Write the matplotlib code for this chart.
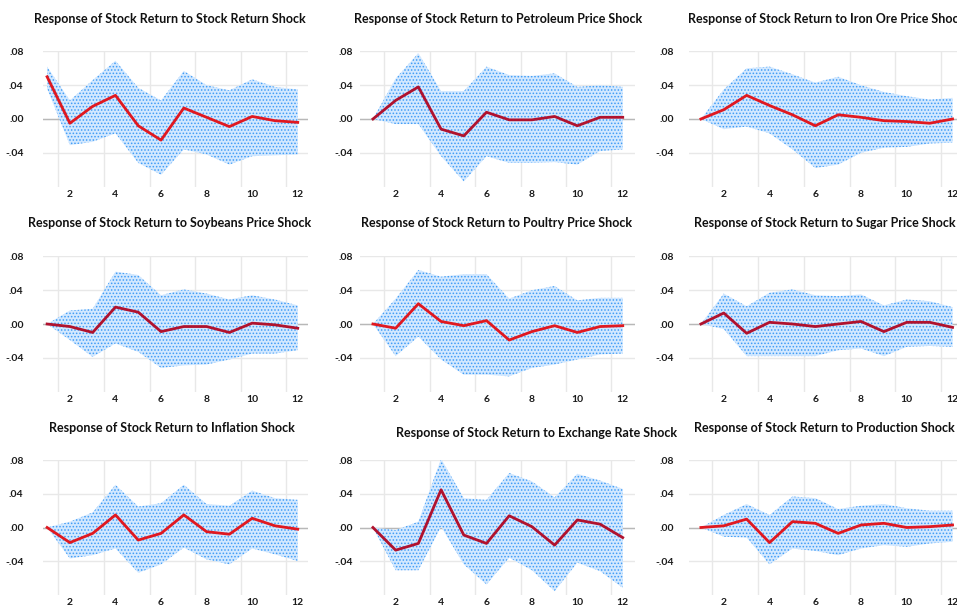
import matplotlib.pyplot as plt
import numpy as np

plt.rcParams['hatch.linewidth'] = 0.7

horizon = np.arange(1, 13)

titles = [
    "Response of Stock Return to Stock Return Shock",
    "Response of Stock Return to Petroleum Price Shock",
    "Response of Stock Return to Iron Ore Price Shock",
    "Response of Stock Return to Soybeans Price Shock",
    "Response of Stock Return to Poultry Price Shock",
    "Response of Stock Return to Sugar Price Shock",
    "Response of Stock Return to Inflation Shock",
    "Response of Stock Return to Exchange Rate Shock",
    "Response of Stock Return to Production Shock",
]

# impulse responses with +/- 2 S.E. bands
stock_irf = [0.050, -0.005, 0.015, 0.028, -0.008, -0.025, 0.013, 0.002, -0.009, 0.003, -0.002, -0.004]
stock_hi = [0.062, 0.022, 0.046, 0.069, 0.037, 0.022, 0.057, 0.040, 0.034, 0.047, 0.038, 0.035]
stock_lo = [0.036, -0.031, -0.027, -0.017, -0.052, -0.066, -0.036, -0.042, -0.054, -0.044, -0.043, -0.042]

petro_irf = [0.000, 0.022, 0.038, -0.012, -0.020, 0.008, -0.001, -0.001, 0.003, -0.008, 0.002, 0.002]
petro_hi = [0.000, 0.048, 0.078, 0.033, 0.033, 0.062, 0.052, 0.051, 0.054, 0.038, 0.040, 0.038]
petro_lo = [0.000, -0.006, -0.006, -0.044, -0.074, -0.044, -0.052, -0.052, -0.051, -0.054, -0.038, -0.036]

iron_irf = [0.000, 0.011, 0.028, 0.016, 0.005, -0.008, 0.005, 0.002, -0.002, -0.003, -0.005, 0.000]
iron_hi = [0.000, 0.035, 0.060, 0.062, 0.053, 0.043, 0.050, 0.040, 0.032, 0.027, 0.023, 0.025]
iron_lo = [0.000, -0.012, -0.009, -0.017, -0.036, -0.058, -0.054, -0.040, -0.034, -0.033, -0.029, -0.028]

soy_irf = [0.000, -0.003, -0.010, 0.020, 0.014, -0.009, -0.003, -0.003, -0.010, 0.001, -0.001, -0.005]
soy_hi = [0.000, 0.016, 0.018, 0.062, 0.058, 0.034, 0.041, 0.036, 0.029, 0.034, 0.029, 0.022]
soy_lo = [0.000, -0.019, -0.039, -0.023, -0.033, -0.052, -0.049, -0.048, -0.042, -0.035, -0.035, -0.031]

poultry_irf = [0.000, -0.005, 0.024, 0.003, -0.002, 0.004, -0.019, -0.009, -0.002, -0.010, -0.003, -0.002]
poultry_hi = [0.000, 0.030, 0.064, 0.056, 0.059, 0.059, 0.030, 0.040, 0.045, 0.028, 0.031, 0.031]
poultry_lo = [0.000, -0.038, -0.015, -0.042, -0.060, -0.060, -0.062, -0.052, -0.048, -0.042, -0.036, -0.035]

sugar_irf = [0.000, 0.013, -0.011, 0.002, 0.000, -0.003, 0.000, 0.003, -0.009, 0.002, 0.002, -0.004]
sugar_hi = [0.000, 0.036, 0.021, 0.037, 0.041, 0.034, 0.033, 0.035, 0.022, 0.029, 0.027, 0.020]
sugar_lo = [0.000, -0.006, -0.038, -0.038, -0.038, -0.038, -0.031, -0.029, -0.038, -0.027, -0.026, -0.027]

infl_irf = [0.000, -0.018, -0.007, 0.015, -0.015, -0.007, 0.015, -0.005, -0.008, 0.011, 0.002, -0.002]
infl_hi = [0.000, 0.007, 0.018, 0.051, 0.025, 0.029, 0.051, 0.028, 0.026, 0.044, 0.035, 0.033]
infl_lo = [0.000, -0.037, -0.033, -0.025, -0.054, -0.044, -0.024, -0.038, -0.044, -0.025, -0.032, -0.040]

fx_irf = [0.000, -0.027, -0.019, 0.045, -0.009, -0.019, 0.014, 0.001, -0.021, 0.009, 0.004, -0.012]
fx_hi = [0.000, -0.003, 0.007, 0.082, 0.035, 0.033, 0.065, 0.055, 0.036, 0.064, 0.056, 0.046]
fx_lo = [0.000, -0.051, -0.051, 0.001, -0.044, -0.068, -0.036, -0.051, -0.076, -0.042, -0.052, -0.072]

prod_irf = [0.000, 0.002, 0.010, -0.018, 0.007, 0.005, -0.007, 0.003, 0.005, 0.000, 0.001, 0.003]
prod_hi = [0.000, 0.015, 0.028, 0.015, 0.037, 0.035, 0.022, 0.026, 0.028, 0.023, 0.020, 0.020]
prod_lo = [0.000, -0.011, -0.012, -0.044, -0.025, -0.028, -0.033, -0.025, -0.021, -0.023, -0.019, -0.017]

panels = [
    (stock_irf, stock_hi, stock_lo),
    (petro_irf, petro_hi, petro_lo),
    (iron_irf, iron_hi, iron_lo),
    (soy_irf, soy_hi, soy_lo),
    (poultry_irf, poultry_hi, poultry_lo),
    (sugar_irf, sugar_hi, sugar_lo),
    (infl_irf, infl_hi, infl_lo),
    (fx_irf, fx_hi, fx_lo),
    (prod_irf, prod_hi, prod_lo),
]

W, H = 957, 608
fig = plt.figure(figsize=(W / 100, H / 100), dpi=100)

# pixel layout of the grid (left, right) per column and (top, bottom) per row
cols = [(43, 308), (360, 635), (689, 964)]
rows = [(51, 187), (256, 392), (460, 595)]
xlims = [(0.82, 12.45), (0.43, 12.54), (0.48, 12.5)]
ypads = [14, 5, 11]
title_xy = [(170, 19), (498, 19), (827, 19),
            (170, 223), (497, 223), (825, 223),
            (172, 428), (537, 433), (824, 428)]
line_colors = ['#e01820', '#b0122e', '#e01820',
               '#b0122e', '#e01820', '#b0122e',
               '#e01820', '#b0122e', '#e01820']

font = ['Lato', 'DejaVu Sans']

for i, (irf, hi, lo) in enumerate(panels):
    r, c = divmod(i, 3)
    left, right = cols[c]
    top, bottom = rows[r]
    ax = fig.add_axes([left / W, 1 - bottom / H, (right - left) / W, (bottom - top) / H])

    ax.fill_between(horizon, lo, hi, facecolor='#d2e8ff', edgecolor='#3f9cf6',
                    hatch='.....', linewidth=0, zorder=2)
    ax.axhline(0, color='#b8b8b8', linewidth=1.0, zorder=1)
    ax.plot(horizon, irf, color=line_colors[i], linewidth=2.0, zorder=3)

    ax.set_xlim(*xlims[c])
    ax.set_ylim(-0.0805, 0.0805)
    ax.set_xticks(range(2, 13, 2))
    ax.set_xticks(np.arange(1.5, 12, 2), minor=True)
    ax.set_yticks([-0.04, 0.0, 0.04, 0.08])
    ax.set_yticklabels(['-.04', '.00', '.04', '.08'])
    ax.grid(which='minor', axis='x', color='#e8e8e8', linewidth=1.0, zorder=0)
    ax.grid(which='major', axis='y', color='#e8e8e8', linewidth=1.0, zorder=0)
    ax.set_axisbelow(True)
    ax.tick_params(which='both', length=0)
    ax.tick_params(axis='y', pad=ypads[c])
    ax.tick_params(axis='x', pad=2)
    for lab in ax.get_xticklabels() + ax.get_yticklabels():
        lab.set_family(font)
        lab.set_fontsize(7.5)
        lab.set_fontweight('bold')
        lab.set_color('#1a1a1a')
    for s in ax.spines.values():
        s.set_visible(False)

    tx, ty = title_xy[i]
    fig.text(tx / W, 1 - ty / H, titles[i], ha='center', va='center',
             family=font, fontsize=9, fontweight='bold', color='#111111')

fig.savefig('out.png', dpi=100)
